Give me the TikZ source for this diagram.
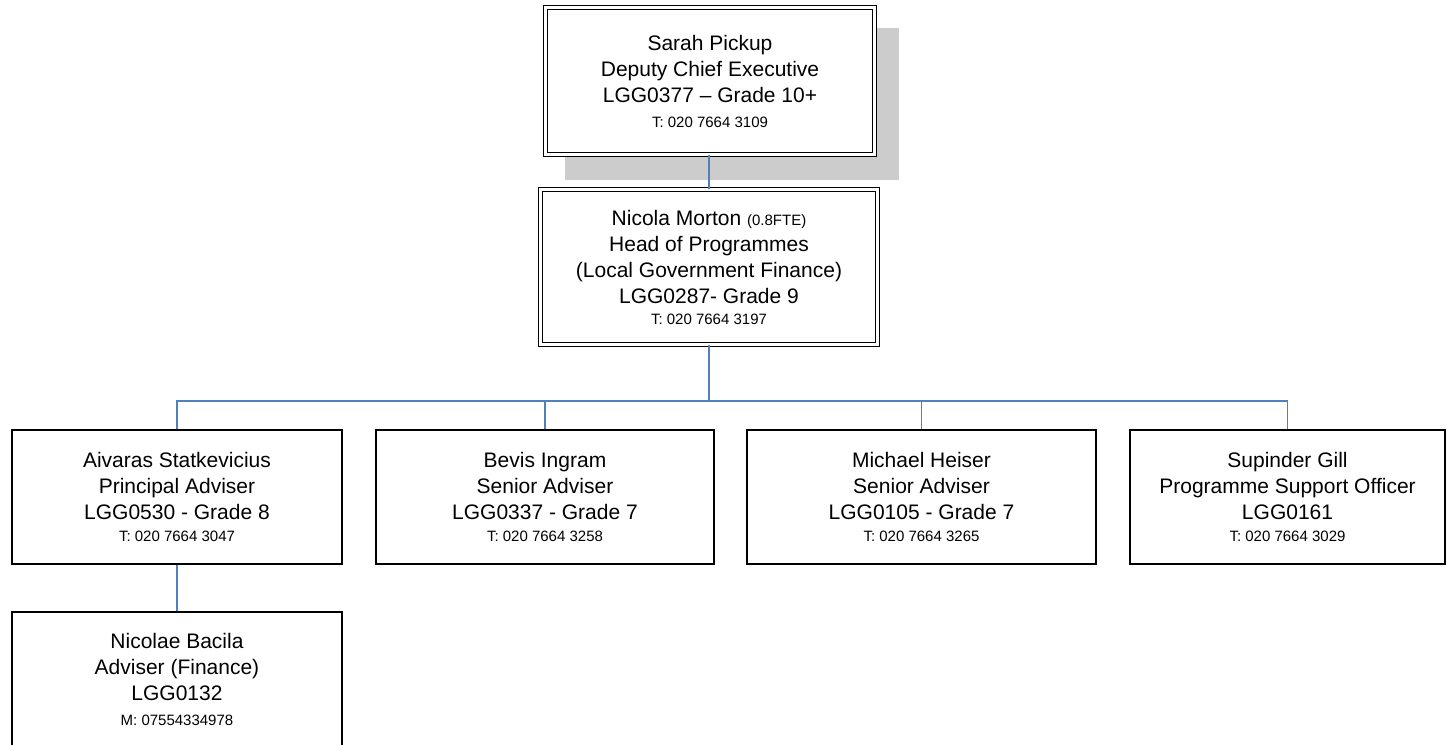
\documentclass[tikz,border=0pt]{standalone}
\usepackage{fontspec}
\setmainfont{Liberation Sans}
\definecolor{linkblue}{RGB}{79,129,189}
\definecolor{shadowgray}{RGB}{204,204,204}
\newcommand{\phone}[1]{{\fontsize{15}{18}\selectfont #1}}
\begin{document}
\begin{tikzpicture}[x=1pt, y=-1pt,
    post/.style={draw, line width=1.5pt, fill=white, align=center, inner sep=0pt,
      font=\fontsize{21}{26}\selectfont},
    head/.style={post, line width=1.4pt, double, double distance=2.2pt},
    link/.style={draw=linkblue, line width=1.5pt}]
  \useasboundingbox (0,0) rectangle (1447,744);
  \clip (0,0) rectangle (1447,744);
  \fill[shadowgray] (565,28) rectangle (899,180);
  \node[head, minimum width=329pt, minimum height=147pt] (pickup) at (710,81)
    {Sarah Pickup\\Deputy Chief Executive\\LGG0377 -- Grade 10+\\[-1pt]\phone{T: 020 7664 3109}};
  \node[head, minimum width=337pt, minimum height=155pt] (morton) at (709,267)
    {Nicola Morton \phone{(0.8FTE)}\\Head of Programmes\\(Local Government Finance)\\LGG0287- Grade 9\\[-5pt]\phone{T: 020 7664 3197}};
  \node[post, minimum width=330pt, minimum height=134pt] (statkevicius) at (177,497)
    {Aivaras Statkevicius\\Principal Adviser\\LGG0530 - Grade 8\\[-4pt]\phone{T: 020 7664 3047}};
  \node[post, minimum width=338pt, minimum height=134pt] (ingram) at (545,497)
    {Bevis Ingram\\Senior Adviser\\LGG0337 - Grade 7\\[-4pt]\phone{T: 020 7664 3258}};
  \node[post, minimum width=349pt, minimum height=134pt] (heiser) at (921.5,497)
    {Michael Heiser\\Senior Adviser\\LGG0105 - Grade 7\\[-4pt]\phone{T: 020 7664 3265}};
  \node[post, minimum width=315pt, minimum height=134pt] (gill) at (1287.5,497)
    {Supinder Gill\\Programme Support Officer\\LGG0161\\[-4pt]\phone{T: 020 7664 3029}};
  \node[post, minimum width=330pt, minimum height=134pt] (bacila) at (177,679)
    {Nicolae Bacila\\Adviser (Finance)\\LGG0132\\[-1pt]\phone{M: 07554334978}};
  \coordinate (bus) at (0,401);
  \draw[link] (morton.north |- pickup.south) -- (morton.north);
  \foreach \n in {statkevicius,ingram,heiser,gill}
    \draw[link] (morton.south) -- (morton.south |- bus) -| (\n.north);
  \draw[link] (statkevicius.south) -- (bacila.north);
\end{tikzpicture}
\end{document}
